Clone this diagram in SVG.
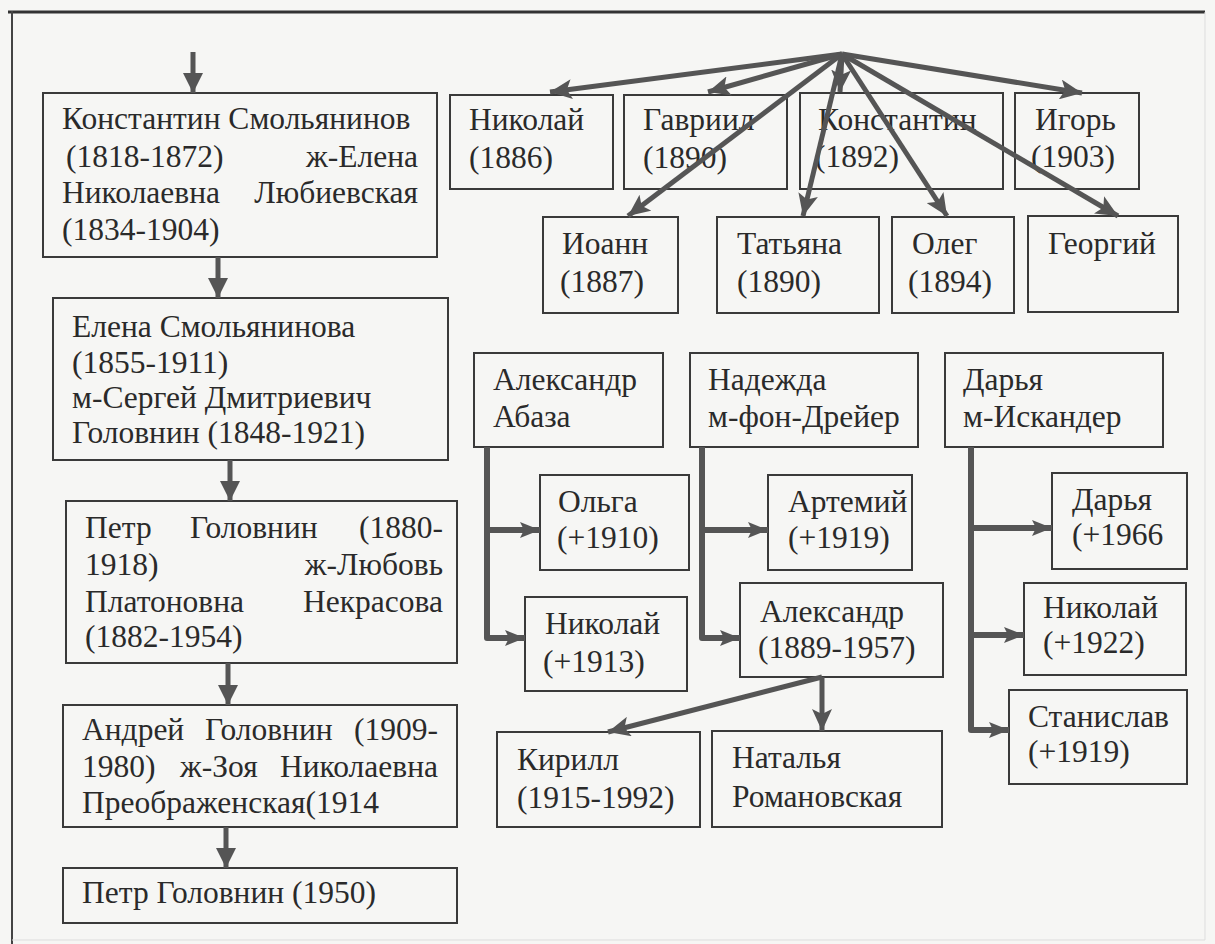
<svg xmlns="http://www.w3.org/2000/svg" width="1215" height="944" viewBox="0 0 1215 944">
<style>
.box{fill:none;stroke:#3a3a3a;stroke-width:2}
text{font-family:"Liberation Serif","Times New Roman",serif;font-size:31.5px;fill:#2a2a2a}
.e{text-anchor:end}
.fan{stroke:#555;stroke-width:5;fill:none;marker-end:url(#ah)}
.chain{stroke:#555;stroke-width:5;fill:none;marker-end:url(#ah2)}
.bra{stroke:#555;stroke-width:6;fill:none;stroke-linejoin:round;marker-end:url(#ah3)}
</style>
<defs>
<marker id="ah" markerUnits="userSpaceOnUse" markerWidth="24" markerHeight="20" refX="22" refY="10" orient="auto"><path d="M0,0 L22,10 L0,20 L5,10 Z" fill="#555"/></marker>
<marker id="ah2" markerUnits="userSpaceOnUse" markerWidth="22" markerHeight="20" refX="20" refY="10" orient="auto"><path d="M0,0 L20,10 L0,20 Z" fill="#555"/></marker>
<marker id="ah3" markerUnits="userSpaceOnUse" markerWidth="22" markerHeight="18" refX="20" refY="9" orient="auto"><path d="M0,1 L20,9 L0,17 L4,9 Z" fill="#555"/></marker>
</defs>
<rect x="0" y="0" width="1215" height="944" fill="#f6f6f4"/>
<g id="frame">
<line x1="8" y1="12" x2="1205" y2="12" stroke="#333" stroke-width="3"/>
<line x1="12" y1="11" x2="12" y2="944" stroke="#444" stroke-width="2"/>
<line x1="1205" y1="12" x2="1205" y2="940" stroke="#ddd" stroke-width="1"/>
<line x1="12" y1="940" x2="1205" y2="940" stroke="#ddd" stroke-width="1"/>
</g>
<g id="n_konstantin_sm">
<rect class="box" x="43" y="93" width="394" height="164"/>
<text x="62" y="129">Константин Смольянинов</text>
<text x="66" y="167">(1818-1872)</text><text class="e" x="418" y="167">ж-Елена</text>
<text x="62" y="203">Николаевна</text><text class="e" x="418" y="203">Любиевская</text>
<text x="62" y="240">(1834-1904)</text>
</g>
<g id="n_elena">
<rect class="box" x="53" y="298" width="395" height="162"/>
<text x="72" y="337">Елена Смольянинова</text>
<text x="72" y="373">(1855-1911)</text>
<text x="72" y="408">м-Сергей Дмитриевич</text>
<text x="72" y="443">Головнин (1848-1921)</text>
</g>
<g id="n_petr1">
<rect class="box" x="66" y="501" width="391" height="162"/>
<text x="85" y="538">Петр</text><text x="190" y="538">Головнин</text><text class="e" x="443" y="538">(1880-</text>
<text x="85" y="575">1918)</text><text class="e" x="443" y="575">ж-Любовь</text>
<text x="85" y="612">Платоновна</text><text class="e" x="443" y="612">Некрасова</text>
<text x="85" y="647">(1882-1954)</text>
</g>
<g id="n_andrey">
<rect class="box" x="63" y="705" width="394" height="122"/>
<text x="82" y="740">Андрей</text><text x="205" y="740">Головнин</text><text class="e" x="438" y="740">(1909-</text>
<text x="82" y="777">1980)</text><text x="180" y="777">ж-Зоя</text><text class="e" x="438" y="777">Николаевна</text>
<text x="82" y="813">Преображенская(1914</text>
</g>
<g id="n_petr2">
<rect class="box" x="63" y="868" width="394" height="55"/>
<text x="82" y="903">Петр Головнин (1950)</text>
</g>
<g id="n_nikolay1886">
<rect class="box" x="450" y="95" width="163" height="94"/>
<text x="469" y="130">Николай</text><text x="469" y="168">(1886)</text>
</g>
<g id="n_gavriil">
<rect class="box" x="624" y="95" width="163" height="94"/>
<text x="643" y="130">Гавриил</text><text x="643" y="168">(1890)</text>
</g>
<g id="n_konstantin1892">
<rect class="box" x="800" y="93" width="203" height="96"/>
<text x="818" y="130">Константин</text><text x="815" y="167">(1892)</text>
</g>
<g id="n_igor">
<rect class="box" x="1015" y="93" width="124" height="96"/>
<text x="1035" y="130">Игорь</text><text x="1031" y="167">(1903)</text>
</g>
<g id="n_ioann">
<rect class="box" x="543" y="217" width="135" height="96"/>
<text x="562" y="254">Иоанн</text><text x="560" y="292">(1887)</text>
</g>
<g id="n_tatyana">
<rect class="box" x="717" y="217" width="162" height="96"/>
<text x="737" y="254">Татьяна</text><text x="737" y="292">(1890)</text>
</g>
<g id="n_oleg">
<rect class="box" x="892" y="217" width="122" height="96"/>
<text x="912" y="254">Олег</text><text x="908" y="292">(1894)</text>
</g>
<g id="n_georgiy">
<rect class="box" x="1028" y="216" width="150" height="96"/>
<text x="1048" y="254">Георгий</text>
</g>
<g id="n_abaza">
<rect class="box" x="474" y="353" width="189" height="94"/>
<text x="493" y="390">Александр</text><text x="493" y="427">Абаза</text>
</g>
<g id="n_nadezhda">
<rect class="box" x="690" y="353" width="228" height="94"/>
<text x="708" y="390">Надежда</text><text x="708" y="427">м-фон-Дрейер</text>
</g>
<g id="n_darya">
<rect class="box" x="945" y="353" width="218" height="94"/>
<text x="963" y="390">Дарья</text><text x="963" y="427">м-Искандер</text>
</g>
<g id="n_olga">
<rect class="box" x="540" y="475" width="149" height="95"/>
<text x="558" y="512">Ольга</text><text x="557" y="548">(+1910)</text>
</g>
<g id="n_nikolay1913">
<rect class="box" x="525" y="597" width="162" height="94"/>
<text x="545" y="634">Николай</text><text x="543" y="672">(+1913)</text>
</g>
<g id="n_artemiy">
<rect class="box" x="768" y="475" width="144" height="95"/>
<text x="788" y="512">Артемий</text><text x="788" y="548">(+1919)</text>
</g>
<g id="n_aleksandr1889">
<rect class="box" x="740" y="583" width="203" height="94"/>
<text x="760" y="622">Александр</text><text x="758" y="658">(1889-1957)</text>
</g>
<g id="n_darya1966">
<rect class="box" x="1052" y="473" width="135" height="96"/>
<text x="1072" y="510">Дарья</text><text x="1072" y="545">(+1966</text>
</g>
<g id="n_nikolay1922">
<rect class="box" x="1024" y="583" width="162" height="92"/>
<text x="1043" y="618">Николай</text><text x="1043" y="653">(+1922)</text>
</g>
<g id="n_stanislav">
<rect class="box" x="1009" y="690" width="178" height="94"/>
<text x="1028" y="727">Станислав</text><text x="1028" y="762">(+1919)</text>
</g>
<g id="n_kirill">
<rect class="box" x="497" y="732" width="203" height="95"/>
<text x="517" y="770">Кирилл</text><text x="517" y="808">(1915-1992)</text>
</g>
<g id="n_natalya">
<rect class="box" x="712" y="731" width="230" height="96"/>
<text x="732" y="768">Наталья</text><text x="732" y="807">Романовская</text>
</g>
<g id="connectors">
<line class="chain" x1="193" y1="52" x2="193" y2="93"/>
<line class="chain" x1="218" y1="257" x2="218" y2="298"/>
<line class="chain" x1="230" y1="460" x2="230" y2="501"/>
<line class="chain" x1="228" y1="663" x2="228" y2="705"/>
<line class="chain" x1="226" y1="827" x2="226" y2="868"/>
<line class="fan" x1="842" y1="54" x2="550" y2="92"/>
<line class="fan" x1="842" y1="54" x2="708" y2="92"/>
<line class="fan" x1="842" y1="54" x2="628" y2="216"/>
<line class="fan" x1="842" y1="54" x2="803" y2="216"/>
<line class="fan" x1="842" y1="54" x2="840" y2="92"/>
<line class="fan" x1="842" y1="54" x2="947" y2="216"/>
<line class="fan" x1="842" y1="54" x2="1118" y2="216"/>
<line class="fan" x1="842" y1="54" x2="1082" y2="93"/>
<path class="bra" d="M487,447 V638 H525"/>
<path class="bra" d="M487,530 H540"/>
<path class="bra" d="M702,447 V638 H740"/>
<path class="bra" d="M702,530 H768"/>
<path class="bra" d="M971,447 V730 H1009"/>
<path class="bra" d="M971,528 H1052"/>
<path class="bra" d="M971,635 H1024"/>
<line class="fan" x1="822" y1="677" x2="822" y2="731"/>
<line class="fan" x1="822" y1="677" x2="608" y2="732"/>
</g>
</svg>
